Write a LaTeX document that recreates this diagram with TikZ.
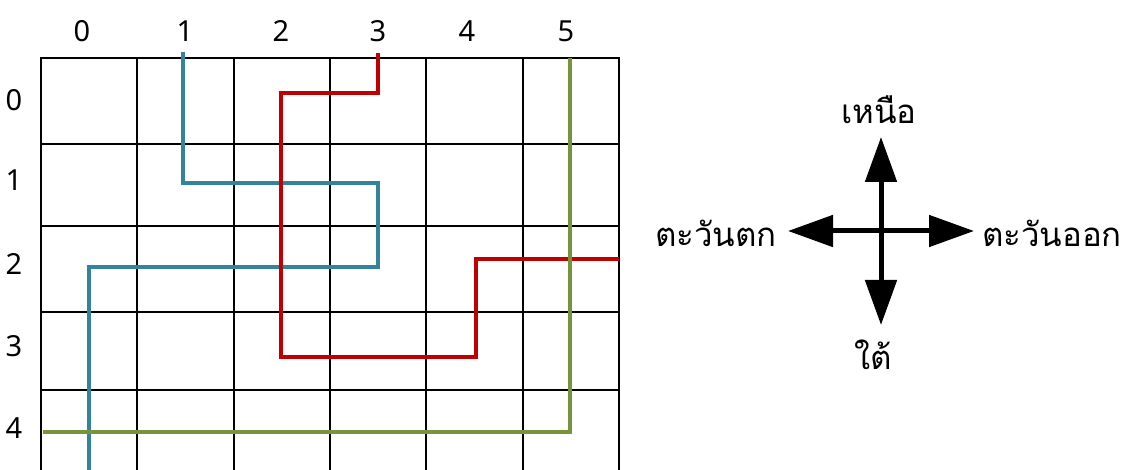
\documentclass[tikz,border=0pt]{standalone}
\usepackage{fontspec}
\setmainfont[Script=Thai]{Loma}
\newfontfamily\numfont{Noto Sans}
\usetikzlibrary{arrows.meta}
\definecolor{pblue}{HTML}{31849B}
\definecolor{pred}{HTML}{C00000}
\definecolor{pgreen}{HTML}{77933C}
\tikzset{
  gridline/.style={black, line width=2pt},
  route/.style={line width=4.5pt, line join=miter, line cap=butt},
  num/.style={inner sep=0pt, font=\numfont\fontsize{29}{32}\selectfont},
  dirlabel/.style={inner sep=0pt, font=\fontsize{33}{37}\selectfont},
  dirarrow/.style={line width=5pt, -{Triangle[length=45pt,width=31pt]}}
}
\begin{document}
\begin{tikzpicture}[x=1pt,y=-1pt]
\useasboundingbox (0,0) rectangle (1128,470);
\fill[white] (0,0) rectangle (1128,470);
% grid
\foreach \x in {41,137,234,330,426,523,619} \draw[gridline] (\x,58) -- (\x,470);
\foreach \y in {58,144,226,312,390} \draw[gridline] (40,\y) -- (620,\y);
% column labels
\foreach \i/\x in {0/82,1/185,2/281,3/378,4/467,5/566} \node[num] (c\i) at (\x,31) {\i};
% row labels
\foreach \i/\y in {0/100,1/180,2/264,3/346,4/428} \node[num] (r\i) at (14,\y) {\i};
% routes
\draw[route, pblue] (183,52) -- (183,183) -- (378,183) -- (378,267) -- (89,267) -- (89,470);
\draw[route, pred] (378,53) -- (378,93) -- (281,93) -- (281,357) -- (476,357) -- (476,259) -- (619,259);
\draw[route, pgreen] (570,58) -- (570,432) -- (43,432);
% compass
\coordinate (ctr) at (881,231);
\coordinate (tipN) at (881,137);
\coordinate (tipS) at (881,325);
\coordinate (tipW) at (788,231);
\coordinate (tipE) at (974,231);
\draw[dirarrow] (ctr) -- (tipN);
\draw[dirarrow] (ctr) -- (tipS);
\draw[dirarrow] (ctr) -- (tipW);
\draw[dirarrow] (ctr) -- (tipE);
\node[dirlabel] (north) at (879,110) {เหนือ};
\node[dirlabel] (south) at (873,355) {ใต้};
\node[dirlabel] (west) at (716,233) {ตะวันตก};
\node[dirlabel] (east) at (1052,233) {ตะวันออก};
\end{tikzpicture}
\end{document}
